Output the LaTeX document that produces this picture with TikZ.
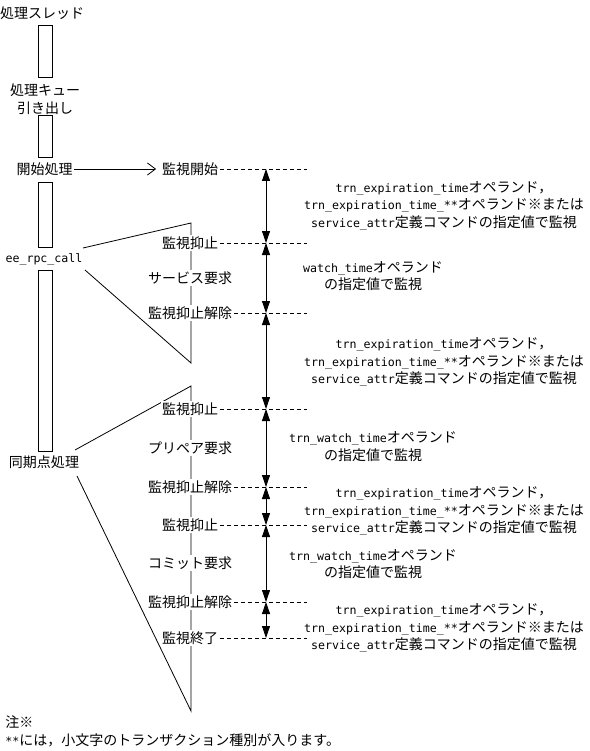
\documentclass[tikz,border=0pt]{standalone}
\usepackage{fontspec}
\setmainfont{Noto Sans CJK JP}
\newfontfamily\hwfont[Scale=0.83]{DejaVu Sans Mono}
\newcommand\hw[1]{{\hwfont #1}}
\newcommand\expltext{\hw{trn\_expiration\_time}オペランド，\\\hw{trn\_expiration\_time\_**}オペランド※または\\\hw{service\_attr}定義コマンドの指定値で監視}
\usetikzlibrary{arrows.meta}
\begin{document}
\begin{tikzpicture}[x=1pt,y=-1pt,line width=0.8pt,
  font=\fontsize{14}{17.5}\selectfont,
  every node/.style={inner sep=1.5pt},
  pbox/.style={draw,minimum width=14.5pt,inner sep=0pt},
  lbl/.style={fill=white,inner sep=1.5pt},
  dline/.style={dash pattern=on 4pt off 3pt},
  varr/.style={{Triangle[length=12pt,width=8pt]}-{Triangle[length=12pt,width=8pt]}},
  txt/.style={align=center}]
\fill[white] (0,0) rectangle (589,751);
\useasboundingbox (0,0) rectangle (589,751);
% left column
\node (thr) at (42,13) {処理スレッド};
\node[pbox,minimum height=52pt] (b1) at (45.5,51) {};
\node[txt] (deq) at (45,99) {処理キュー\\引き出し};
\node[pbox,minimum height=42pt] (b2) at (45.5,136) {};
\node (start) at (44.5,169) {開始処理};
\node[pbox,minimum height=65pt] (b3) at (45.5,214.5) {};
\node (ee) at (44,259) {\hw{ee\_rpc\_call}};
\node[pbox,minimum height=181pt] (b4) at (45.5,360.5) {};
\node (sync) at (44,462) {同期点処理};
% triangles
\coordinate (t1top) at (191,223);
\coordinate (t1bot) at (191,363);
\coordinate (t2top) at (191,386);
\coordinate (t2bot) at (191,711);
\coordinate (e1) at (83,248);
\coordinate (e2) at (85,270);
\coordinate (s1) at (75,450);
\coordinate (s2) at (77,476);
\draw (e1) -- (t1top) -- (t1bot) -- (e2);
\draw (s1) -- (t2top) -- (t2bot) -- (s2);
% labels
\node[lbl] (m0) at (190,169) {監視開始};
\node[lbl] (m1) at (190,243) {監視抑止};
\node[lbl] (m2) at (190,278) {サービス要求};
\node[lbl] (m3) at (190,313) {監視抑止解除};
\node[lbl] (m4) at (190,409) {監視抑止};
\node[lbl] (m5) at (190,448) {プリペア要求};
\node[lbl] (m6) at (190,487) {監視抑止解除};
\node[lbl] (m7) at (190,525) {監視抑止};
\node[lbl] (m8) at (190,563) {コミット要求};
\node[lbl] (m9) at (190,602) {監視抑止解除};
\node[lbl] (m10) at (190,638) {監視終了};
\draw[-{Straight Barb[length=8pt,width=12pt]},shorten >=4pt] (start) -- (m0);
% right coordinates
\foreach \n/\y in {0/169,1/243,3/313,4/409,6/487,7/525,9/602,10/638}{
  \coordinate (a\n) at (266,\y);
  \coordinate (r\n) at (307,\y);
  \draw[dline] (m\n.east) -- (r\n);
}
\draw[varr] (a0) -- (a1);
\draw[varr] (a1) -- (a3);
\draw[varr] (a3) -- (a4);
\draw[varr] (a4) -- (a6);
\draw[varr] (a6) -- (a7);
\draw[varr] (a7) -- (a9);
\draw[varr] (a9) -- (a10);
% right texts
\node[txt] (n1) at (444,205.5) {\expltext};
\node[txt] (n2) at (373,276) {\hw{watch\_time}オペランド\\の指定値で監視};
\node[txt] (n3) at (444,362) {\expltext};
\node[txt] (n4) at (373,446.5) {\hw{trn\_watch\_time}オペランド\\の指定値で監視};
\node[txt] (n5) at (444,511) {\expltext};
\node[txt] (n6) at (373,564) {\hw{trn\_watch\_time}オペランド\\の指定値で監視};
\node[txt] (n7) at (444,628) {\expltext};
% notes
\node[anchor=west,inner sep=0pt] (note1) at (5,722) {注※};
\node[anchor=west,inner sep=0pt] (note2) at (5,740) {\hw{**}には，小文字のトランザクション種別が入ります。};
\end{tikzpicture}
\end{document}
